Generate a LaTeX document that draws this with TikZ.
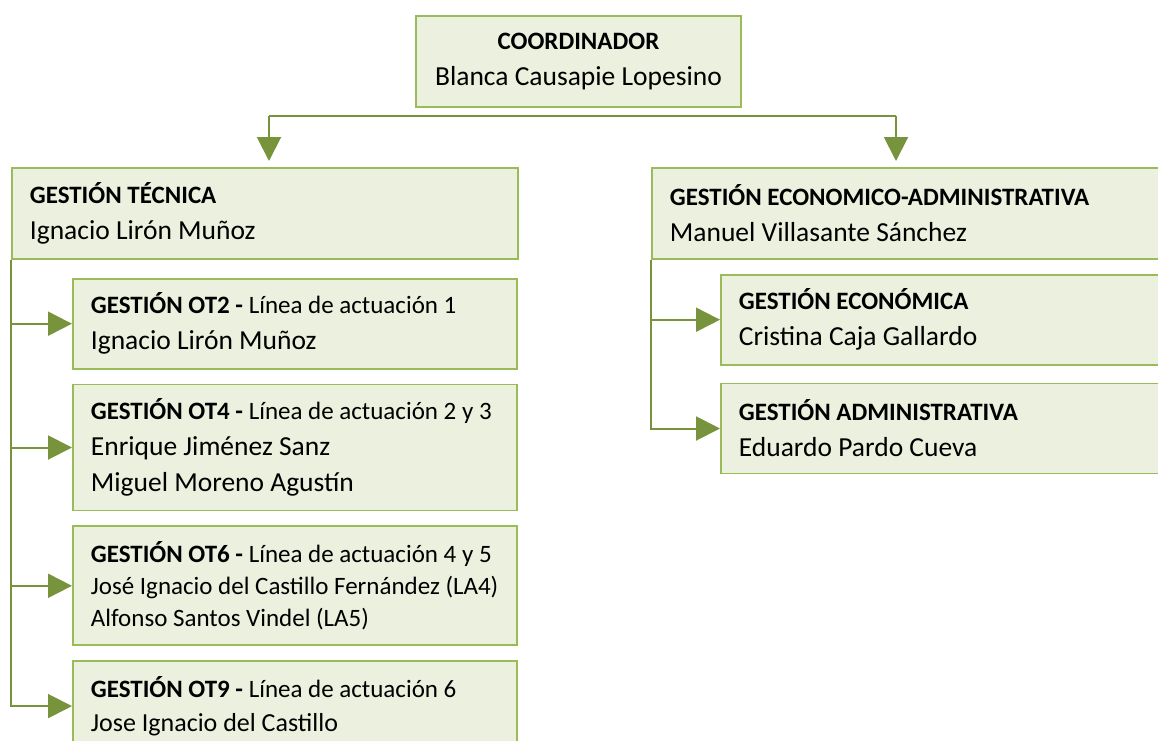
\documentclass[tikz,border=0pt]{standalone}
\usepackage{fontspec}
\setmainfont{Carlito}
\usepackage{xcolor}
\usetikzlibrary{arrows.meta, positioning}
\definecolor{boxfill}{HTML}{EBF1DE}
\definecolor{boxline}{HTML}{9BBB59}
\definecolor{arrline}{HTML}{77933C}
\newcommand{\hd}[1]{{\fontsize{12.5}{18}\selectfont #1}}

\begin{document}
\begin{tikzpicture}[
    x=0.5pt, y=-0.5pt,
    node distance=7pt and 0pt,
    box/.style={rectangle, draw=boxline, fill=boxfill, line width=0.9pt, inner xsep=9pt, inner ysep=0pt, minimum height=45pt, align=flush left, anchor=north west, font=\fontsize{13.75}{18}\selectfont},
    arr/.style={-{Triangle[length=12pt, width=12pt]}, draw=arrline, line width=1pt},
    bar/.style={draw=arrline, line width=0.6pt},
]
\clip (0,0) rectangle (1158,740);

% Top level
\node[box, anchor=north, align=center, minimum width=162.5pt, minimum height=45.5pt] (coord) at (578.5,15) {\hd{\textbf{COORDINADOR}}\\Blanca Causapie Lopesino};

% Second level
\node[box, text width=235pt, minimum height=45.5pt] (tec) at (11,167) {\hd{\textbf{GESTIÓN TÉCNICA}}\\Ignacio Lirón Muñoz};
\node[box, text width=242pt, minimum height=45.5pt] (eca) at (651,167) {\hd{\textbf{GESTIÓN ECONOMICO-ADMINISTRATIVA}}\\Manuel Villasante Sánchez};

% Technical branch
\node[box, text width=204pt, below=9pt of tec.south west, anchor=north west, xshift=30.5pt] (ot2) {\hd{\textbf{GESTIÓN OT2 -} Línea de actuación 1}\\Ignacio Lirón Muñoz};
\node[box, text width=204pt, minimum height=63pt, below=of ot2] (ot4) {\hd{\textbf{GESTIÓN OT4 -} Línea de actuación 2 y 3}\\Enrique Jiménez Sanz\\Miguel Moreno Agustín};
\node[box, text width=204pt, minimum height=59.5pt, below=of ot4, font=\fontsize{12.5}{16}\selectfont] (ot6) {\textbf{GESTIÓN OT6 -} Línea de actuación 4 y 5\\José Ignacio del Castillo Fernández (LA4)\\Alfonso Santos Vindel (LA5)};
\node[box, text width=204pt, below=of ot6, font=\fontsize{13}{17}\selectfont] (ot9) {\hd{\textbf{GESTIÓN OT9 -} Línea de actuación 6}\\Jose Ignacio del Castillo};

% Economic branch
\node[box, text width=210pt, below=7pt of eca.south west, anchor=north west, xshift=34.5pt] (eco) {\hd{\textbf{GESTIÓN ECONÓMICA}}\\Cristina Caja Gallardo};
\node[box, text width=210pt, below=8.5pt of eco] (adm) {\hd{\textbf{GESTIÓN ADMINISTRATIVA}}\\Eduardo Pardo Cueva};

% Coordinator split
\coordinate (barL) at (269,116);
\coordinate (barR) at (896,116);
\draw[bar] (barL) -- (barR);
\draw[arr, shorten >=3pt] (barL) -- (barL |- tec.north);
\draw[arr, shorten >=3pt] (barR) -- (barR |- eca.north);

% Branch connectors
\foreach \n in {ot2, ot4, ot6, ot9}
  \draw[arr] (tec.south west) |- (\n.west);
\foreach \n in {eco, adm}
  \draw[arr] (eca.south west) |- (\n.west);
\end{tikzpicture}
\end{document}
